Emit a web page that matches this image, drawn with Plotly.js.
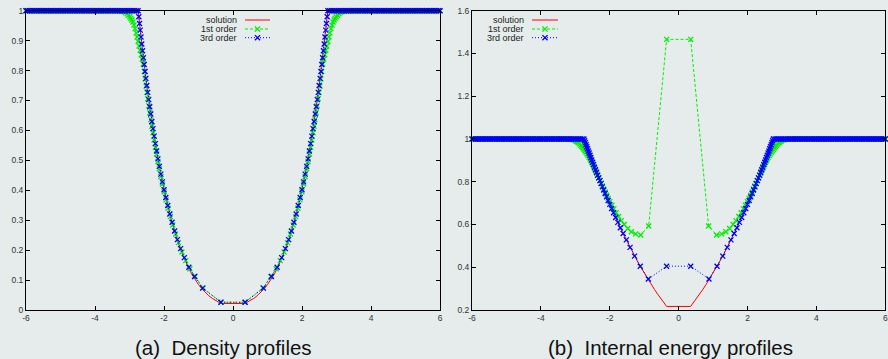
<!DOCTYPE html>
<html>
<head>
<meta charset="utf-8">
<script src="https://cdn.plot.ly/plotly-3.0.1.min.js"></script>
<style>
  html, body { margin: 0; padding: 0; background: #e5eceb; }
  #chart { width: 888px; height: 359px; }
</style>
</head>
<body>
<div id="chart"></div>
<script>
// Exact Riemann solution (two symmetric rarefactions)
const solutionX = [-6, -2.7485, -2.7, -2.6, -2.5, -2.4, -2.3, -2.2, -2.1, -2.0, -1.9, -1.8, -1.7, -1.6, -1.5, -1.4, -1.3, -1.2, -1.1, -1.0, -0.9, -0.8, -0.7, -0.6, -0.5, -0.45, -0.4, -0.348,
  0.348, 0.4, 0.45, 0.5, 0.6, 0.7, 0.8, 0.9, 1.0, 1.1, 1.2, 1.3, 1.4, 1.5, 1.6, 1.7, 1.8, 1.9, 2.0, 2.1, 2.2, 2.3, 2.4, 2.5, 2.6, 2.7, 2.7485, 6];
const solutionRho = [1, 1, 0.9472, 0.8452, 0.7523, 0.6676, 0.5909, 0.5213, 0.4584, 0.4018, 0.3529, 0.3053, 0.2645, 0.2283, 0.1961, 0.1677, 0.1427, 0.1207, 0.1015, 0.0849, 0.0705, 0.0581, 0.0475, 0.0386, 0.0310, 0.0277, 0.0247, 0.0218,
  0.0218, 0.0247, 0.0277, 0.0310, 0.0386, 0.0475, 0.0581, 0.0705, 0.0849, 0.1015, 0.1207, 0.1427, 0.1677, 0.1961, 0.2283, 0.2645, 0.3053, 0.3529, 0.4018, 0.4584, 0.5213, 0.5909, 0.6676, 0.7523, 0.8452, 0.9472, 1, 1];
const solutionE = [1, 1, 0.9785, 0.9350, 0.8924, 0.8508, 0.8102, 0.7706, 0.7320, 0.6944, 0.6578, 0.6221, 0.5875, 0.5539, 0.5212, 0.4895, 0.4589, 0.4292, 0.4005, 0.3728, 0.3461, 0.3204, 0.2957, 0.2720, 0.2492, 0.2382, 0.2275, 0.2166,
  0.2166, 0.2275, 0.2382, 0.2492, 0.2720, 0.2957, 0.3204, 0.3461, 0.3728, 0.4005, 0.4292, 0.4589, 0.4895, 0.5212, 0.5539, 0.5875, 0.6221, 0.6578, 0.6944, 0.7320, 0.7706, 0.8102, 0.8508, 0.8924, 0.9350, 0.9785, 1, 1];

// 1st order Lagrangian scheme: node positions, density, internal energy
const firstX = [
  -6, -5.95, -5.9, -5.85, -5.8, -5.75, -5.7, -5.65, -5.6, -5.55, -5.5, -5.45, -5.4, -5.35, -5.3, -5.25, -5.2, -5.15, -5.1, -5.05,
  -5, -4.95, -4.9, -4.85, -4.8, -4.75, -4.7, -4.65, -4.6, -4.55, -4.5, -4.45, -4.4, -4.35, -4.3, -4.25, -4.2, -4.15, -4.1, -4.05,
  -4, -3.95, -3.9, -3.85, -3.8, -3.75, -3.7, -3.65, -3.6, -3.55, -3.5, -3.45, -3.4, -3.35,
  -3.3, -3.23, -3.17, -3.12, -3.07, -3.03, -2.99, -2.96, -2.93, -2.9, -2.87, -2.84, -2.81, -2.78, -2.75, -2.72, -2.69, -2.66, -2.63, -2.6, -2.57,
  -2.545, -2.52, -2.495, -2.47, -2.44, -2.41, -2.38, -2.35, -2.32, -2.285, -2.25, -2.215, -2.175, -2.135, -2.09, -2.045, -1.995, -1.94, -1.88, -1.815,
  -1.745, -1.665, -1.58, -1.48, -1.37, -1.25, -1.1, -0.87, -0.35,
  0.35, 0.87, 1.1, 1.25, 1.37, 1.48, 1.58, 1.665, 1.745,
  1.815, 1.88, 1.94, 1.995, 2.045, 2.09, 2.135, 2.175, 2.215, 2.25, 2.285, 2.32, 2.35, 2.38, 2.41, 2.44, 2.47, 2.495, 2.52, 2.545,
  2.57, 2.6, 2.63, 2.66, 2.69, 2.72, 2.75, 2.78, 2.81, 2.84, 2.87, 2.9, 2.93, 2.96, 2.99, 3.03, 3.07, 3.12, 3.17, 3.23, 3.3,
  3.35, 3.4, 3.45, 3.5, 3.55, 3.6, 3.65, 3.7, 3.75, 3.8, 3.85, 3.9, 3.95, 4, 4.05, 4.1, 4.15, 4.2, 4.25, 4.3,
  4.35, 4.4, 4.45, 4.5, 4.55, 4.6, 4.65, 4.7, 4.75, 4.8, 4.85, 4.9, 4.95, 5, 5.05, 5.1, 5.15, 5.2, 5.25, 5.3,
  5.35, 5.4, 5.45, 5.5, 5.55, 5.6, 5.65, 5.7, 5.75, 5.8, 5.85, 5.9, 5.95, 6];
const firstRho = [
  1, 1, 1, 1, 1, 1, 1, 1, 1, 1, 1, 1, 1, 1, 1, 1, 1, 1, 1, 1,
  1, 1, 1, 1, 1, 1, 1, 1, 1, 1, 1, 1, 1, 1, 1, 1, 1, 1, 1, 1,
  1, 1, 1, 1, 1, 1, 1, 1, 1, 1, 1, 1, 1, 1,
  0.999, 0.998, 0.997, 0.994, 0.99, 0.985, 0.98, 0.975, 0.969, 0.962, 0.952, 0.94, 0.926, 0.912, 0.897, 0.882, 0.868, 0.853, 0.838, 0.822, 0.797,
  0.772, 0.748, 0.727, 0.706, 0.682, 0.659, 0.636, 0.614, 0.592, 0.568, 0.544, 0.521, 0.496, 0.472, 0.446, 0.421, 0.395, 0.368, 0.34, 0.312,
  0.284, 0.254, 0.225, 0.194, 0.165, 0.138, 0.112, 0.074, 0.026,
  0.026, 0.074, 0.112, 0.138, 0.165, 0.194, 0.225, 0.254, 0.284,
  0.312, 0.34, 0.368, 0.395, 0.421, 0.446, 0.472, 0.496, 0.521, 0.544, 0.568, 0.592, 0.614, 0.636, 0.659, 0.682, 0.706, 0.727, 0.748, 0.772,
  0.797, 0.822, 0.838, 0.853, 0.868, 0.882, 0.897, 0.912, 0.926, 0.94, 0.952, 0.962, 0.969, 0.975, 0.98, 0.985, 0.99, 0.994, 0.997, 0.998, 0.999,
  1, 1, 1, 1, 1, 1, 1, 1, 1, 1, 1, 1, 1, 1, 1, 1, 1, 1, 1, 1,
  1, 1, 1, 1, 1, 1, 1, 1, 1, 1, 1, 1, 1, 1, 1, 1, 1, 1, 1, 1,
  1, 1, 1, 1, 1, 1, 1, 1, 1, 1, 1, 1, 1, 1];
const firstE = [
  1, 1, 1, 1, 1, 1, 1, 1, 1, 1, 1, 1, 1, 1, 1, 1, 1, 1, 1, 1,
  1, 1, 1, 1, 1, 1, 1, 1, 1, 1, 1, 1, 1, 1, 1, 1, 1, 1, 1, 1,
  1, 1, 1, 1, 1, 1, 1, 1, 1, 1, 1, 1, 1, 1,
  1, 1, 0.999, 0.998, 0.997, 0.995, 0.992, 0.989, 0.986, 0.982, 0.977, 0.971, 0.965, 0.959, 0.952, 0.945, 0.938, 0.93, 0.922, 0.914, 0.906,
  0.898, 0.89, 0.882, 0.873, 0.862, 0.851, 0.84, 0.829, 0.818, 0.806, 0.793, 0.78, 0.766, 0.752, 0.737, 0.722, 0.707, 0.69, 0.673, 0.655,
  0.637, 0.618, 0.6, 0.581, 0.566, 0.556, 0.551, 0.593, 1.466,
  1.466, 0.593, 0.551, 0.556, 0.566, 0.581, 0.6, 0.618, 0.637,
  0.655, 0.673, 0.69, 0.707, 0.722, 0.737, 0.752, 0.766, 0.78, 0.793, 0.806, 0.818, 0.829, 0.84, 0.851, 0.862, 0.873, 0.882, 0.89, 0.898,
  0.906, 0.914, 0.922, 0.93, 0.938, 0.945, 0.952, 0.959, 0.965, 0.971, 0.977, 0.982, 0.986, 0.989, 0.992, 0.995, 0.997, 0.998, 0.999, 1, 1,
  1, 1, 1, 1, 1, 1, 1, 1, 1, 1, 1, 1, 1, 1, 1, 1, 1, 1, 1, 1,
  1, 1, 1, 1, 1, 1, 1, 1, 1, 1, 1, 1, 1, 1, 1, 1, 1, 1, 1, 1,
  1, 1, 1, 1, 1, 1, 1, 1, 1, 1, 1, 1, 1, 1];

// 3rd order Lagrangian scheme: node positions, density, internal energy
const thirdX = [
  -6, -5.95, -5.9, -5.85, -5.8, -5.75, -5.7, -5.65, -5.6, -5.55, -5.5, -5.45, -5.4, -5.35, -5.3, -5.25, -5.2, -5.15, -5.1, -5.05,
  -5, -4.95, -4.9, -4.85, -4.8, -4.75, -4.7, -4.65, -4.6, -4.55, -4.5, -4.45, -4.4, -4.35, -4.3, -4.25, -4.2, -4.15, -4.1, -4.05,
  -4, -3.95, -3.9, -3.85, -3.8, -3.75, -3.7, -3.65, -3.6, -3.55, -3.5, -3.45, -3.4, -3.35, -3.3, -3.25, -3.2, -3.15, -3.1, -3.05,
  -3, -2.95, -2.9, -2.85, -2.8, -2.75,
  -2.73, -2.709, -2.688, -2.667, -2.644, -2.622, -2.598, -2.574, -2.549, -2.524, -2.498, -2.471, -2.443, -2.414, -2.384, -2.353, -2.32, -2.286, -2.251, -2.214,
  -2.176, -2.135, -2.092, -2.047, -1.999, -1.947, -1.891, -1.831, -1.766, -1.693, -1.612, -1.519, -1.411, -1.28, -1.115, -0.88, -0.35,
  0.35, 0.88, 1.115, 1.28, 1.411, 1.519, 1.612, 1.693, 1.766, 1.831, 1.891, 1.947, 1.999, 2.047, 2.092, 2.135, 2.176,
  2.214, 2.251, 2.286, 2.32, 2.353, 2.384, 2.414, 2.443, 2.471, 2.498, 2.524, 2.549, 2.574, 2.598, 2.622, 2.644, 2.667, 2.688, 2.709, 2.73,
  2.75, 2.8, 2.85, 2.9, 2.95, 3,
  3.05, 3.1, 3.15, 3.2, 3.25, 3.3, 3.35, 3.4, 3.45, 3.5, 3.55, 3.6, 3.65, 3.7, 3.75, 3.8, 3.85, 3.9, 3.95, 4,
  4.05, 4.1, 4.15, 4.2, 4.25, 4.3, 4.35, 4.4, 4.45, 4.5, 4.55, 4.6, 4.65, 4.7, 4.75, 4.8, 4.85, 4.9, 4.95, 5,
  5.05, 5.1, 5.15, 5.2, 5.25, 5.3, 5.35, 5.4, 5.45, 5.5, 5.55, 5.6, 5.65, 5.7, 5.75, 5.8, 5.85, 5.9, 5.95, 6];
const thirdRho = [
  1, 1, 1, 1, 1, 1, 1, 1, 1, 1, 1, 1, 1, 1, 1, 1, 1, 1, 1, 1,
  1, 1, 1, 1, 1, 1, 1, 1, 1, 1, 1, 1, 1, 1, 1, 1, 1, 1, 1, 1,
  1, 1, 1, 1, 1, 1, 1, 1, 1, 1, 1, 1, 1, 1, 1, 1, 1, 1, 1, 1,
  1, 1, 1, 1, 1, 1,
  0.98, 0.957, 0.935, 0.912, 0.889, 0.866, 0.843, 0.82, 0.797, 0.774, 0.75, 0.727, 0.703, 0.679, 0.655, 0.63, 0.606, 0.581, 0.556, 0.531,
  0.505, 0.48, 0.454, 0.428, 0.402, 0.376, 0.349, 0.321, 0.293, 0.264, 0.235, 0.205, 0.175, 0.143, 0.112, 0.073, 0.026,
  0.026, 0.073, 0.112, 0.143, 0.175, 0.205, 0.235, 0.264, 0.293, 0.321, 0.349, 0.376, 0.402, 0.428, 0.454, 0.48, 0.505,
  0.531, 0.556, 0.581, 0.606, 0.63, 0.655, 0.679, 0.703, 0.727, 0.75, 0.774, 0.797, 0.82, 0.843, 0.866, 0.889, 0.912, 0.935, 0.957, 0.98,
  1, 1, 1, 1, 1, 1,
  1, 1, 1, 1, 1, 1, 1, 1, 1, 1, 1, 1, 1, 1, 1, 1, 1, 1, 1, 1,
  1, 1, 1, 1, 1, 1, 1, 1, 1, 1, 1, 1, 1, 1, 1, 1, 1, 1, 1, 1,
  1, 1, 1, 1, 1, 1, 1, 1, 1, 1, 1, 1, 1, 1, 1, 1, 1, 1, 1, 1];
const thirdE = [
  1, 1, 1, 1, 1, 1, 1, 1, 1, 1, 1, 1, 1, 1, 1, 1, 1, 1, 1, 1,
  1, 1, 1, 1, 1, 1, 1, 1, 1, 1, 1, 1, 1, 1, 1, 1, 1, 1, 1, 1,
  1, 1, 1, 1, 1, 1, 1, 1, 1, 1, 1, 1, 1, 1, 1, 1, 1, 1, 1, 1,
  1, 1, 1, 1, 1, 1,
  0.992, 0.983, 0.973, 0.964, 0.954, 0.944, 0.934, 0.924, 0.913, 0.902, 0.891, 0.88, 0.868, 0.856, 0.844, 0.831, 0.818, 0.805, 0.791, 0.776,
  0.761, 0.745, 0.729, 0.712, 0.694, 0.675, 0.655, 0.633, 0.61, 0.585, 0.558, 0.528, 0.493, 0.452, 0.405, 0.345, 0.405,
  0.405, 0.345, 0.405, 0.452, 0.493, 0.528, 0.558, 0.585, 0.61, 0.633, 0.655, 0.675, 0.694, 0.712, 0.729, 0.745, 0.761,
  0.776, 0.791, 0.805, 0.818, 0.831, 0.844, 0.856, 0.868, 0.88, 0.891, 0.902, 0.913, 0.924, 0.934, 0.944, 0.954, 0.964, 0.973, 0.983, 0.992,
  1, 1, 1, 1, 1, 1,
  1, 1, 1, 1, 1, 1, 1, 1, 1, 1, 1, 1, 1, 1, 1, 1, 1, 1, 1, 1,
  1, 1, 1, 1, 1, 1, 1, 1, 1, 1, 1, 1, 1, 1, 1, 1, 1, 1, 1, 1,
  1, 1, 1, 1, 1, 1, 1, 1, 1, 1, 1, 1, 1, 1, 1, 1, 1, 1, 1, 1];

const xTickVals = [-6, -4, -2, 0, 2, 4, 6];
const xTickText = ['-6', '-4', '-2', '0', '2', '4', '6'];
const seriesNames = ['solution', '1st order', '3rd order'];
const captions = ['(a)&nbsp;&nbsp;Density profiles', '(b)&nbsp;&nbsp;Internal energy profiles'];

[[firstX, firstRho], [firstX, firstE], [thirdX, thirdRho], [thirdX, thirdE], [solutionX, solutionRho], [solutionX, solutionE]]
  .forEach(([a, b], i) => { if (a.length !== b.length) throw new Error('length mismatch in series ' + i + ': ' + a.length + ' vs ' + b.length); });

const W = 888, H = 359;
const BG = '#e5eceb';
const FONT = 'Liberation Sans, Arial, Helvetica, sans-serif';
const RED = '#ff0000', GREEN = '#00ee00', BLUE = '#0000ff';
const GREEN_DASH = '3px,2px', BLUE_DOT = '1px,2px';

const px = v => v / W;
const py = v => 1 - v / H;

function solutionTrace(y, xa, ya) {
  return { x: solutionX, y: y, xaxis: xa, yaxis: ya, type: 'scatter', mode: 'lines',
    line: { color: RED, width: 1 }, hoverinfo: 'skip' };
}
function schemeTrace(x, y, xa, ya, color, dash) {
  return { x: x, y: y, xaxis: xa, yaxis: ya, type: 'scatter', mode: 'lines+markers', cliponaxis: false,
    line: { color: color, width: 1, dash: dash },
    marker: { symbol: 'x-thin', size: 5, color: color, line: { color: color, width: 1.3 } },
    hoverinfo: 'skip' };
}

const data = [
  solutionTrace(solutionRho, 'x', 'y'),
  schemeTrace(firstX, firstRho, 'x', 'y', GREEN, GREEN_DASH),
  schemeTrace(thirdX, thirdRho, 'x', 'y', BLUE, BLUE_DOT),
  solutionTrace(solutionE, 'x2', 'y2'),
  schemeTrace(firstX, firstE, 'x2', 'y2', GREEN, GREEN_DASH),
  schemeTrace(thirdX, thirdE, 'x2', 'y2', BLUE, BLUE_DOT)
];

const axisCommon = {
  showline: true, linecolor: '#000', linewidth: 1, mirror: 'ticks',
  ticks: 'inside', ticklen: 4, tickwidth: 1, tickcolor: '#000',
  showgrid: false, zeroline: false, fixedrange: true,
  tickfont: { family: FONT, size: 8.5, color: '#333' }
};
const yDomain = [py(310), py(10.7)];

// Legend drawn at the top of each panel: label on the left, line sample on the right
const annotations = [];
const shapes = [];
const styles = [
  { color: RED, dash: 'solid', mark: false },
  { color: GREEN, dash: GREEN_DASH, mark: true },
  { color: BLUE, dash: BLUE_DOT, mark: true }
];
[{ textRight: 238.5, sample: [245, 270] }, { textRight: 526, sample: [532, 558] }].forEach(leg => {
  [20, 29, 37.7].forEach((rowY, i) => {
    annotations.push({ text: seriesNames[i], xref: 'paper', yref: 'paper', x: px(leg.textRight), y: py(rowY),
      xanchor: 'right', yanchor: 'middle', showarrow: false,
      font: { family: FONT, size: 9, color: '#222' } });
    shapes.push({ type: 'line', xref: 'paper', yref: 'paper', x0: px(leg.sample[0]), x1: px(leg.sample[1]),
      y0: py(rowY), y1: py(rowY), line: { color: styles[i].color, width: 1, dash: styles[i].dash } });
    if (styles[i].mark) {
      const cx = (leg.sample[0] + leg.sample[1]) / 2, r = 2.6;
      shapes.push({ type: 'path', xref: 'paper', yref: 'paper',
        path: `M ${px(cx - r)} ${py(rowY - r)} L ${px(cx + r)} ${py(rowY + r)} M ${px(cx - r)} ${py(rowY + r)} L ${px(cx + r)} ${py(rowY - r)}`,
        line: { color: styles[i].color, width: 1.3 } });
    }
  });
});

// Panel captions
[[223, captions[0]], [670, captions[1]]].forEach(([cx, txt]) => {
  annotations.push({ text: txt, xref: 'paper', yref: 'paper', x: px(cx), y: py(347),
    xanchor: 'center', yanchor: 'middle', showarrow: false,
    font: { family: FONT, size: 20.5, color: '#111' } });
});

const layout = {
  width: W, height: H,
  margin: { l: 0, r: 0, t: 0, b: 0 },
  paper_bgcolor: BG, plot_bgcolor: BG,
  showlegend: false, hovermode: false,
  xaxis: Object.assign({}, axisCommon, { domain: [px(26), px(440)], range: [-6, 6], anchor: 'y',
    tickmode: 'array', tickvals: xTickVals, ticktext: xTickText }),
  yaxis: Object.assign({}, axisCommon, { domain: yDomain, range: [0, 1], anchor: 'x', tick0: 0, dtick: 0.1 }),
  xaxis2: Object.assign({}, axisCommon, { domain: [px(472), px(885.3)], range: [-6, 6], anchor: 'y2',
    tickmode: 'array', tickvals: xTickVals, ticktext: xTickText }),
  yaxis2: Object.assign({}, axisCommon, { domain: yDomain, range: [0.2, 1.6], anchor: 'x2', tick0: 0.2, dtick: 0.2 }),
  annotations: annotations,
  shapes: shapes
};

Plotly.newPlot('chart', data, layout, { staticPlot: true, displayModeBar: false });
</script>
</body>
</html>
